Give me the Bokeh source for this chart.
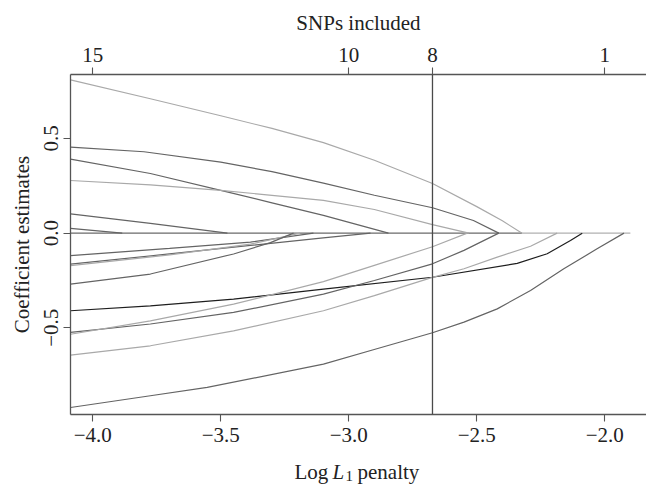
from bokeh.plotting import figure
from bokeh.models import LinearAxis, FixedTicker, Range1d, Span
from bokeh.core.properties import value
from bokeh.embed import file_html
from bokeh.resources import INLINE

# ---------------- data ----------------
x_tick_values = [-4.0, -3.5, -3.0, -2.5, -2.0]
x_tick_labels = ["\u22124.0", "\u22123.5", "\u22123.0", "\u22122.5", "\u22122.0"]
y_tick_values = [0.5, 0.0, -0.5]
y_tick_labels = ["0.5", "0.0", "\u22120.5"]
snps_included = [15, 10, 8, 1]
snps_log_lambda = [-4.0, -3.0, -2.673, -2.0]
selected_log_lambda = -2.673
path_start = -4.087
path_end = -1.90

snp01_x = [-4.087, -3.775, -3.5, -3.3, -3.099, -2.9, -2.673, -2.5, -2.4, -2.323]
snp01_y = [0.81, 0.71, 0.62, 0.553, 0.478, 0.385, 0.262, 0.14, 0.065, 0.0]
snp02_x = [-4.087, -3.8, -3.5, -3.3, -3.099, -2.9, -2.673, -2.513, -2.414]
snp02_y = [0.454, 0.43, 0.375, 0.325, 0.264, 0.2, 0.134, 0.067, 0.0]
snp03_x = [-4.087, -3.775, -3.5, -3.3, -3.099, -2.845]
snp03_y = [0.391, 0.315, 0.226, 0.16, 0.094, 0.0]
snp04_x = [-4.087, -3.775, -3.5, -3.3, -3.099, -2.9, -2.673, -2.531]
snp04_y = [0.278, 0.255, 0.226, 0.2, 0.173, 0.125, 0.045, 0.0]
snp05_x = [-4.087, -3.775, -3.474]
snp05_y = [0.102, 0.052, 0.0]
snp06_x = [-4.087, -3.885]
snp06_y = [0.025, 0.0]
snp07_x = [-4.087, -3.7, -3.384, -3.138]
snp07_y = [-0.119, -0.08, -0.047, 0.0]
snp08_x = [-4.087, -3.7, -3.384, -3.1, -2.915]
snp08_y = [-0.164, -0.11, -0.065, -0.025, 0.0]
snp09_x = [-4.087, -3.7, -3.384, -3.19]
snp09_y = [-0.172, -0.115, -0.058, 0.0]
snp10_x = [-4.087, -3.775, -3.45, -3.306, -3.216]
snp10_y = [-0.269, -0.216, -0.11, -0.05, 0.0]
snp11_x = [-4.087, -3.775, -3.45, -3.099, -2.673, -2.342, -2.225, -2.134, -2.088]
snp11_y = [-0.41, -0.384, -0.349, -0.296, -0.233, -0.16, -0.109, -0.039, 0.0]
snp12_x = [-4.087, -3.775, -3.45, -3.099, -2.9, -2.673, -2.55, -2.414]
snp12_y = [-0.524, -0.48, -0.419, -0.322, -0.25, -0.162, -0.091, 0.0]
snp13_x = [-4.087, -3.775, -3.45, -3.099, -2.9, -2.673, -2.537]
snp13_y = [-0.534, -0.463, -0.375, -0.256, -0.17, -0.072, 0.0]
snp14_x = [-4.087, -3.775, -3.45, -3.099, -2.9, -2.673, -2.55, -2.42, -2.29, -2.186]
snp14_y = [-0.644, -0.595, -0.516, -0.41, -0.33, -0.234, -0.188, -0.127, -0.069, 0.0]
snp15_x = [-4.087, -3.775, -3.553, -3.099, -2.904, -2.673, -2.55, -2.42, -2.29, -2.16, -2.03, -1.925]
snp15_y = [-0.921, -0.859, -0.815, -0.692, -0.616, -0.526, -0.47, -0.40, -0.303, -0.188, -0.083, 0.0]

paths_x = [snp01_x, snp02_x, snp03_x, snp04_x, snp05_x, snp06_x, snp07_x, snp08_x,
           snp09_x, snp10_x, snp11_x, snp12_x, snp13_x, snp14_x, snp15_x]
paths_y = [snp01_y, snp02_y, snp03_y, snp04_y, snp05_y, snp06_y, snp07_y, snp08_y,
           snp09_y, snp10_y, snp11_y, snp12_y, snp13_y, snp14_y, snp15_y]

# ---------------- styles ----------------
LIGHT, DARK, BLACK = "#a9a9a9", "#646464", "#1e1e1e"
path_colors = [LIGHT, DARK, DARK, LIGHT, DARK, DARK, DARK, DARK,
               LIGHT, DARK, BLACK, DARK, LIGHT, LIGHT, DARK]
FONT = "Liberation Serif"
FS = "21px"
TXT = "#222222"
AX = "#555555"

X0, X1 = -4.087, -1.837
Y0, Y1 = -0.958, 0.838
FL, FR, FT, FB = 70, 646, 74, 414

p = figure(width=646, height=484, output_backend="svg", toolbar_location=None,
           x_range=Range1d(X0, X1), y_range=Range1d(Y0, Y1),
           min_border_left=FL, min_border_right=646 - FR,
           min_border_top=FT, min_border_bottom=484 - FB)
p.outline_line_color = None
p.xgrid.visible = False
p.ygrid.visible = False
p.background_fill_color = "white"
p.border_fill_color = "white"


def style_axis(ax):
    ax.axis_line_color = AX
    ax.axis_line_width = 1.3
    ax.major_tick_line_color = AX
    ax.major_tick_line_width = 1.1
    ax.major_tick_out = 7
    ax.major_tick_in = 0
    ax.minor_tick_line_color = None
    ax.major_label_text_font = FONT
    ax.major_label_text_font_size = FS
    ax.major_label_text_color = TXT
    ax.axis_label_text_font = FONT
    ax.axis_label_text_font_size = FS
    ax.axis_label_text_font_style = "normal"
    ax.axis_label_text_color = TXT


xa = p.xaxis[0]
xa.ticker = FixedTicker(ticks=x_tick_values)
xa.major_label_overrides = dict(zip(x_tick_values, x_tick_labels))
xa.major_label_standoff = 6
style_axis(xa)

ya = p.yaxis[0]
ya.ticker = FixedTicker(ticks=y_tick_values)
ya.major_label_overrides = dict(zip(y_tick_values, y_tick_labels))
ya.major_label_orientation = "vertical"
ya.major_label_standoff = 5
ya.axis_label = "Coefficient estimates"
ya.axis_label_standoff = 8
style_axis(ya)

top = LinearAxis(ticker=FixedTicker(ticks=snps_log_lambda),
                 major_label_overrides={v: str(n) for v, n in zip(snps_log_lambda, snps_included)},
                 axis_label="SNPs included")
style_axis(top)
top.major_label_standoff = 6
top.axis_label_standoff = 10
p.add_layout(top, "above")

# zero baseline (non-selected coefficients), darker where many paths overlap
pos_zero_max = max(snp01_x[-1], snp02_x[-1])
p.line([path_start, pos_zero_max], [0, 0], line_color="#6a6a6a", line_width=1.3)
p.line([pos_zero_max, path_end], [0, 0], line_color="#b0b0b0", line_width=1.3)

for xs, ys, c in zip(paths_x, paths_y, path_colors):
    p.line(xs, ys, line_color=c, line_width=1.2)

p.add_layout(Span(location=selected_log_lambda, dimension="height",
                  line_color="#4a4a4a", line_width=1.3))


def px_x(px):
    return X0 + (px - FL) / (FR - FL) * (X1 - X0)


def py_y(py):
    return Y1 - (py - FT) / (FB - FT) * (Y1 - Y0)


# x-axis title "Log L_1 penalty" (italic L, subscript 1), drawn unclipped
base = 471
for txt, px, style, size, dy in [("Log", 294, "normal", FS, 0),
                                 ("L", 332, "italic", FS, 0),
                                 ("1", 345, "normal", "15px", 4),
                                 ("penalty", 357, "normal", FS, 0)]:
    p.text(x=[px_x(px)], y=[py_y(base + dy)], text=[txt],
           text_font=value(FONT), text_font_size=value(size),
           text_font_style=style, text_color=TXT,
           text_align="left", text_baseline="alphabetic", level="overlay")

open("out.html", "w").write(file_html(p, INLINE))
